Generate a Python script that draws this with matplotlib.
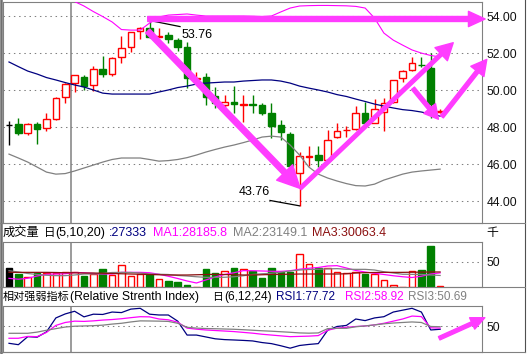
import numpy as np
import matplotlib.pyplot as plt
from matplotlib.lines import Line2D

W, H = 528, 354

# ---- daily candles (price) ----
opens = [48.12, 48.15, 47.70, 48.15, 47.94, 48.44, 49.65, 50.37, 50.69, 50.26,
         51.13, 50.86, 51.77, 52.35, 53.20, 53.34, 52.86, 52.98, 52.71, 52.32,
         50.60, 50.69, 49.68, 49.20, 49.38, 49.22, 49.26, 49.20, 48.78, 48.12,
         47.63, 45.54, 46.42, 46.50, 46.22, 47.45, 47.83, 47.88, 48.78, 48.24,
         48.84, 49.38, 50.64, 51.09, 51.38, 51.21, 48.82]
highs = [48.33, 48.48, 48.24, 48.30, 48.75, 49.61, 50.40, 50.80, 50.82, 51.30,
         51.85, 51.77, 52.93, 53.13, 53.43, 53.76, 53.35, 53.16, 52.80, 52.62,
         50.96, 50.94, 50.19, 49.74, 50.22, 49.74, 49.74, 49.29, 49.29, 48.39,
         47.75, 46.67, 46.98, 46.98, 47.85, 48.21, 48.06, 49.14, 49.38, 49.50,
         49.56, 50.55, 51.09, 51.78, 51.81, 51.99, 48.96]
lows = [47.04, 47.58, 47.58, 47.09, 47.81, 48.39, 49.29, 49.92, 50.01, 49.97,
        50.73, 50.76, 51.48, 52.04, 52.75, 52.82, 52.86, 52.53, 52.13, 50.10,
        50.37, 49.20, 49.02, 48.93, 48.75, 48.30, 48.78, 48.66, 47.40, 47.30,
        45.90, 43.76, 45.90, 45.86, 46.13, 47.40, 47.46, 47.85, 48.21, 48.21,
        47.82, 49.32, 50.46, 51.05, 51.27, 48.48, 48.75]
closes = [48.12, 47.70, 48.15, 47.88, 48.42, 49.56, 50.33, 50.80, 50.24, 51.13,
          50.86, 51.72, 52.26, 53.13, 53.34, 52.86, 52.90, 52.75, 52.35, 50.64,
          50.66, 49.65, 49.29, 49.38, 49.24, 49.26, 49.22, 48.78, 48.06, 47.75,
          45.92, 46.44, 46.46, 46.22, 47.30, 47.81, 47.87, 48.78, 48.24, 48.96,
          49.32, 50.55, 51.04, 51.45, 51.34, 49.25, 48.86]

# ---- Bollinger bands ----
boll_up = [56.3, 56.1, 55.9, 55.7, 55.5, 55.3, 55.0, 54.78, 54.54, 54.24,
           53.97, 53.68, 53.27, 53.24, 53.24, 53.62, 53.95, 54.05, 54.08, 54.11,
           54.05, 54.00, 54.00, 54.00, 54.00, 54.00, 53.99, 53.97, 54.00, 54.22,
           54.43, 54.54, 54.56, 54.57, 54.57, 54.56, 54.55, 54.52, 54.43, 53.89,
           53.08, 52.70, 52.43, 52.17, 52.00, 51.87, 51.79]
boll_mid = [51.52, 51.27, 51.03, 50.87, 50.68, 50.55, 50.41, 50.28, 50.17, 50.01,
            49.84, 49.79, 49.79, 49.79, 49.79, 49.79, 49.90, 50.01, 50.14, 50.22,
            50.33, 50.38, 50.41, 50.44, 50.44, 50.49, 50.52, 50.55, 50.55, 50.49,
            50.38, 50.22, 50.11, 50.01, 49.90, 49.76, 49.66, 49.52, 49.39, 49.25,
            49.14, 49.04, 48.95, 48.90, 48.82, 48.71, 48.60]
boll_low = [46.55, 46.34, 46.12, 45.85, 45.58, 45.47, 45.50, 45.64, 45.80, 45.96,
            46.12, 46.26, 46.34, 46.34, 46.34, 46.26, 46.17, 46.20, 46.26, 46.36,
            46.50, 46.66, 46.80, 46.93, 47.04, 47.17, 47.31, 47.47, 47.52, 47.47,
            47.04, 46.50, 45.85, 45.47, 45.26, 45.10, 44.96, 44.85, 44.83, 44.93,
            45.15, 45.31, 45.47, 45.58, 45.64, 45.69, 45.74]

# ---- volume (thousand) ----
volume = [37.4, 26, 20.7, 28.7, 27.3, 27.3, 29.3, 29.3, 22, 26,
          35.3, 24, 43.3, 22.7, 25.3, 25.3, 16.7, 12.7, 10.7, 4,
          0, 36, 27.3, 32, 38, 35.3, 32.7, 18.7, 38, 29.3,
          29.3, 66, 45.3, 37.3, 37.3, 30.7, 28, 29.3, 26, 26,
          14, 4, 0, 32, 34, 82, 2]
vol_ma1 = [17.3, 15.5, 17.5, 22, 25.5, 26, 26.5, 29, 28.5, 27,
           26, 26, 29.3, 29.3, 29.3, 28.5, 25.5, 21.5, 17, 12,
           8, 14, 20, 25, 28.5, 32.7, 32.5, 32, 31.5, 31.3,
           32.5, 35.5, 37.5, 39, 42, 42.7, 38, 33, 30, 27.5,
           25, 22.5, 20.5, 19, 21.5, 26, 28.2]
vol_ma2 = [32.5, 30, 27, 25, 23.5, 22.7, 22.7, 24, 26, 26,
           27, 29, 29.3, 29, 28, 26, 25.5, 25, 23, 22,
           20.5, 19.3, 19.3, 19.5, 20.5, 22.5, 25, 26.5, 27.5, 29.5,
           32, 34, 35, 35.5, 36.2, 36.7, 35.5, 35.3, 35.3, 34,
           30.5, 28, 25.5, 25.3, 25, 24, 23.1]
vol_ma3 = [29.3, 29.3, 29.3, 29.3, 29.3, 29, 28.5, 28.5, 28, 28,
           27.5, 27, 26.5, 26, 25.5, 25, 24.5, 24, 24, 24,
           24.5, 25, 25.3, 25, 24.5, 24, 24, 24.5, 25, 25.3,
           25.5, 26, 26, 26, 26, 26, 26.5, 28, 28.7, 29,
           29.3, 29.3, 29.3, 29.5, 29.7, 30, 30.06]

# ---- RSI ----
rsi1 = [18.6, 16, 31, 30, 40, 66, 73.5, 78.5, 68, 73,
        72.5, 77, 76, 82.5, 84, 73, 71.5, 71.5, 60, 34,
        34, 30.5, 27, 25.5, 24.8, 24, 23, 20, 18, 14,
        9.5, 14.5, 16.5, 18, 43, 50, 52, 64, 61, 66,
        68.3, 77, 80.5, 84, 77, 43.5, 44.8]
rsi2 = [28, 28, 31.5, 31, 39, 52, 57.5, 60, 59.5, 60.5,
        62, 63, 64.5, 66.5, 68.3, 68, 64, 62.5, 58, 47,
        45, 43.5, 42.5, 41.5, 40.5, 39, 37.5, 35.5, 34, 32.5,
        31, 31.5, 32, 33, 43, 47, 48.5, 50, 51, 53,
        56, 60, 64, 69.5, 68.5, 47.5, 47]
rsi3 = [37.3, 37.3, 37.3, 39.5, 43, 46, 49, 50.5, 51, 51.5,
        52.5, 54.5, 56, 58.5, 60.5, 60.3, 60, 59.5, 56, 48.5,
        47, 46.2, 45.8, 45.3, 44.8, 44, 43, 42, 41.2, 40.2,
        39.2, 38, 37.5, 38, 46, 46.6, 46.6, 49.5, 51, 53,
        55, 56.5, 57.5, 58.5, 57.5, 50, 49.6]

price_ticks = [44, 46, 48, 50, 52, 54]
cursor_bar = 6.58

RED = '#ff0000'
GREEN = '#008000'
NAVY = '#000080'
MAG = '#ff00ff'
GRAY = '#808080'
MAROON = '#8b1010'
ARROW = '#ff3cff'
LBL = ['Liberation Sans', 'Noto Sans CJK SC']

x = np.arange(len(opens))
o = np.array(opens); c = np.array(closes)
up = c > o
down = c < o
face = np.where(up, 'white', np.where(down, GREEN, 'black'))
edge = np.where(up, RED, np.where(down, GREEN, 'black'))

fig = plt.figure(figsize=(W / 100, H / 100), dpi=100)


def panel(x0, y0, x1, y1):
    a = fig.add_axes([x0 / W, 1 - y1 / H, (x1 - x0) / W, (y1 - y0) / H])
    a.set_xlim(-0.64, 50.5)
    a.set_xticks([])
    for s in a.spines.values():
        s.set_color(GRAY)
        s.set_linewidth(0.8)
    a.yaxis.tick_right()
    a.tick_params(axis='y', length=0, pad=3, labelsize=8.7, labelcolor='#111111')
    a.grid(axis='y', color=GRAY, lw=0.75, ls=(0, (1.4, 3.6)))
    a.axvline(cursor_bar, color=GRAY, lw=1.1, zorder=1)
    return a


def fig_line(xs, ys, color, lw):
    fig.add_artist(Line2D([v / W for v in xs], [1 - v / H for v in ys],
                          transform=fig.transFigure, color=color, lw=lw))


def fig_text(px, py, s, color='black', size=9):
    fig.text(px / W, 1 - py / H, s, color=color, fontsize=size, va='center',
             ha='left', family=LBL)


# ---- main price panel ----
ax = panel(3, 2.3, 482.3, 222.7)
ax.set_ylim(42.85, 54.74)
ax.set_yticks(price_ticks)
ax.set_yticklabels([f'{v:.2f}' for v in price_ticks], family='Liberation Sans')
ax.vlines(x, lows, highs, colors=edge, lw=1.0, zorder=2)
ax.bar(x, np.abs(c - o), bottom=np.minimum(o, c), width=0.7,
       color=face, edgecolor=edge, linewidth=1.0, zorder=3)
ax.plot(x, boll_up, color=MAG, lw=0.8, zorder=4)
ax.plot(x, boll_mid, color=NAVY, lw=0.9, zorder=4)
ax.plot(x, boll_low, color=GRAY, lw=0.9, zorder=4)

# high / low markers
ax.plot([15, 18.25], [53.76, 53.43], color='black', lw=0.9, zorder=5)
ax.text(18.4, 53.0, '53.76', fontsize=9, va='center', ha='left',
        family='Liberation Sans', zorder=5)
ax.plot([31, 27.85], [43.76, 44.05], color='black', lw=0.9, zorder=5)
ax.text(27.8, 44.5, '43.76', fontsize=9, va='center', ha='right',
        family='Liberation Sans', zorder=5)

# hand drawn arrows (tail, tip, head length, head width, tail width in pt)
arrows_main = [
    ((14.8, 53.84), (50.8, 53.84), 12, 11, 3.6),
    ((14.8, 53.19), (31.06, 44.70), 16, 16, 4.0),
    ((31.06, 44.70), (47.4, 52.56), 12, 13, 2.6),
    ((43.1, 50.10), (45.82, 48.43), 10, 11, 2.8),
    ((46.18, 48.57), (50.98, 51.66), 11, 12, 2.8),
]
for (x0, y0), (x1, y1), hl, hw, tw in arrows_main:
    ax.annotate('', xy=(x1, y1), xytext=(x0, y0), annotation_clip=False, zorder=6,
                arrowprops=dict(arrowstyle=f'simple,head_length={hl},head_width={hw},tail_width={tw}',
                                mutation_scale=1, color=ARROW, shrinkA=0, shrinkB=0,
                                clip_on=False))

# ---- volume panel ----
axv = panel(3, 242.3, 482.3, 287)
axv.set_ylim(0, 89.4)
axv.set_yticks([50])
axv.set_yticklabels(['50'], family='Liberation Sans')
axv.bar(x, volume, width=0.7, color=face, edgecolor=edge, linewidth=1.0, zorder=3)
axv.plot(x, vol_ma1, color=MAG, lw=0.9, zorder=4)
axv.plot(x, vol_ma2, color=GRAY, lw=0.9, zorder=4)
axv.plot(x, vol_ma3, color=MAROON, lw=0.9, zorder=4)

# ---- RSI panel ----
axr = panel(3, 306, 482.3, 351.7)
axr.set_ylim(2.9, 88.3)
axr.set_yticks([50])
axr.set_yticklabels(['50'], family='Liberation Sans')
axr.plot(x, rsi1, color=NAVY, lw=0.9, zorder=4)
axr.plot(x, rsi2, color=MAG, lw=0.9, zorder=4)
axr.plot(x, rsi3, color=GRAY, lw=0.9, zorder=4)
axr.annotate('', xy=(50.77, 66.4), xytext=(45.9, 28.0), annotation_clip=False, zorder=6,
             arrowprops=dict(arrowstyle='simple,head_length=10,head_width=9,tail_width=2.6',
                             mutation_scale=1, color=ARROW, shrinkA=0, shrinkB=0,
                             clip_on=False))

# ---- headers ----
fig_text(3, 233, '成交量', size=8.8)
fig_text(44, 233, '日', size=8.3)
fig_text(55, 233, '(5,10,20)')
fig_text(109, 233, ':27333', color=NAVY)
fig_text(153, 233, 'MA1:28185.8', color=MAG)
fig_text(233, 233, 'MA2:23149.1', color=GRAY)
fig_text(312, 233, 'MA3:30063.4', color=MAROON)
fig_text(486, 233, '千', size=8.5)

fig_text(3, 297, '相对强弱指标', size=8)
fig_text(70.5, 297, '(Relative Strenth Index)', size=8.8)
fig_text(212.5, 297, '日', size=7.8)
fig_text(224.5, 297, '(6,12,24)', size=8.6)
fig_text(276, 297, 'RSI1:77.72', color=NAVY, size=8.5)
fig_text(345, 297, 'RSI2:58.92', color=MAG, size=8.5)
fig_text(408, 297, 'RSI3:50.69', color=GRAY, size=8.5)

# ---- frame ----
fig_line([1.2, 1.2], [0, 354], '#707070', 1.8)
fig_line([524.5, 524.5], [0, 352], '#505050', 0.8)
fig_line([0, 524.5], [222.7, 222.7], GRAY, 0.8)
fig_line([0, 524.5], [287, 287], GRAY, 0.8)
fig_line([0, 524.5], [351.7, 351.7], GRAY, 0.8)

fig.savefig('out.png', dpi=100)
